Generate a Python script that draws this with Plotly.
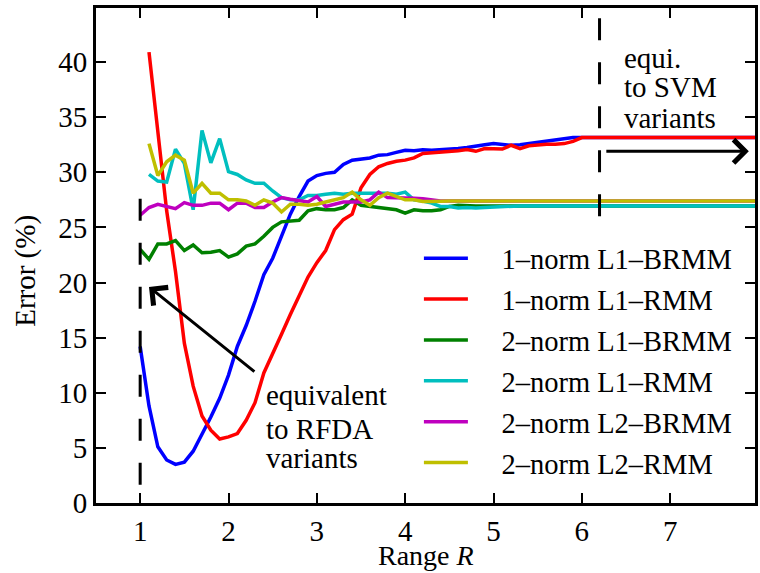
import plotly.graph_objects as go

# x grid (Range R)
x_brmm = [1.0, 1.1, 1.2, 1.3, 1.4, 1.5, 1.6, 1.7, 1.8, 1.9,
          2.0, 2.1, 2.2, 2.3, 2.4, 2.5, 2.6, 2.7, 2.8, 2.9,
          3.0, 3.1, 3.2, 3.3, 3.4, 3.5, 3.6, 3.7, 3.8, 3.9,
          4.0, 4.1, 4.2, 4.3, 4.4, 4.5, 4.6, 4.7, 4.8, 4.9,
          5.0, 5.1, 5.2, 5.3, 5.4, 5.5, 5.6, 5.7, 5.8, 5.9,
          6.0, 6.1, 6.2, 8.0]
x_rmm = x_brmm[1:]

l1_brmm_1norm = [14.2, 8.8, 5.1, 3.9, 3.5, 3.7, 4.7, 6.2, 7.8, 9.5,
                 11.6, 14.2, 16.1, 18.3, 20.7, 22.2, 24.3, 26.2, 27.8, 29.2,
                 29.7, 29.9, 30.0, 30.7, 31.1, 31.2, 31.3, 31.55, 31.6, 31.8,
                 32.0, 31.95, 32.05, 32.0, 32.05, 32.05, 32.15, 32.25, 32.4, 32.5,
                 32.6, 32.5, 32.45, 32.5, 32.6, 32.7, 32.85, 32.95, 33.05, 33.15,
                 33.15, 33.15, 33.15, 33.15]

l1_rmm_1norm = [40.9, 33.5, 26.5, 21.0, 14.5, 10.6, 7.9, 6.6, 5.8,
                6.0, 6.3, 7.5, 9.1, 11.8, 13.5, 15.3, 17.1, 18.8, 20.5,
                21.8, 22.9, 24.8, 25.7, 26.2, 28.6, 29.8, 30.5, 30.8, 31.0,
                31.1, 31.3, 31.7, 31.75, 31.8, 31.85, 31.95, 32.06, 31.9, 32.15,
                32.1, 32.1, 32.45, 32.15, 32.4, 32.5, 32.55, 32.55, 32.6, 32.8,
                33.15, 33.15, 33.15, 33.15]

l1_brmm_2norm = [23.0, 22.1, 23.5, 23.5, 23.8, 22.9, 23.4, 22.7, 22.75, 22.9,
                 22.3, 22.6, 23.3, 23.5, 24.2, 25.0, 25.5, 25.6, 25.65, 26.5,
                 26.7, 26.6, 26.6, 26.8, 27.5, 27.0, 26.9, 26.8, 26.7, 26.6,
                 26.3, 26.6, 26.5, 26.5, 26.6, 26.9, 27.0, 26.95, 26.95, 26.95,
                 26.95, 26.95, 26.95, 26.95, 26.95, 26.95, 26.95, 26.95, 26.95, 26.95,
                 26.95, 26.95, 26.95, 26.95]

l1_rmm_2norm = [29.8, 29.2, 29.1, 32.1, 30.8, 26.6, 33.8, 30.85, 33.05,
                30.05, 29.8, 29.3, 29.0, 29.0, 28.3, 27.7, 27.5, 27.5, 27.9,
                27.9, 28.0, 28.1, 28.0, 28.1, 28.1, 28.1, 28.1, 28.1, 28.0,
                28.2, 27.5, 27.4, 27.2, 26.9, 26.9, 26.75, 26.8, 26.75, 26.8,
                26.85, 26.9, 26.95, 26.95, 26.95, 26.95, 26.95, 26.95, 26.95, 26.95,
                26.95, 26.95, 26.95, 26.95]

l2_brmm_2norm = [26.1, 26.8, 27.1, 26.9, 26.7, 27.25, 27.0, 27.0, 27.2, 27.2,
                 26.6, 27.2, 27.2, 26.8, 26.8, 27.3, 27.7, 27.55, 27.4, 27.3,
                 27.8, 26.9, 27.1, 27.3, 27.3, 27.3, 27.5, 28.2, 27.7, 27.7,
                 27.7, 27.65, 27.6, 27.5, 27.4, 27.4, 27.4, 27.4, 27.4, 27.4,
                 27.4, 27.4, 27.4, 27.4, 27.4, 27.4, 27.4, 27.4, 27.4, 27.4,
                 27.4, 27.4, 27.4, 27.4]

l2_rmm_2norm = [32.6, 29.7, 30.95, 31.55, 31.1, 28.1, 29.0, 28.1, 28.1,
                27.5, 27.5, 27.4, 27.0, 27.5, 27.2, 26.4, 27.1, 27.1, 27.0,
                27.1, 27.3, 27.5, 27.7, 28.2, 27.5, 27.0, 27.7, 28.1, 27.8,
                27.5, 27.5, 27.35, 27.35, 27.4, 27.4, 27.4, 27.4, 27.4, 27.4,
                27.4, 27.4, 27.4, 27.4, 27.4, 27.4, 27.4, 27.4, 27.4, 27.4,
                27.4, 27.4, 27.4, 27.4]

series_names = ["1\u2013norm L1\u2013BRMM", "1\u2013norm L1\u2013RMM",
                "2\u2013norm L1\u2013BRMM", "2\u2013norm L1\u2013RMM",
                "2\u2013norm L2\u2013BRMM", "2\u2013norm L2\u2013RMM"]
series_x = [x_brmm, x_rmm, x_brmm, x_rmm, x_brmm, x_rmm]
series_y = [l1_brmm_1norm, l1_rmm_1norm, l1_brmm_2norm,
            l1_rmm_2norm, l2_brmm_2norm, l2_rmm_2norm]
colors = ["#0000FF", "#FF0000", "#008000", "#00BFBF", "#BF00BF", "#BFBF00"]

x_ticks = [1, 2, 3, 4, 5, 6, 7]
y_ticks = [0, 5, 10, 15, 20, 25, 30, 35, 40]

FONT = "'Times New Roman', 'Liberation Serif', Times, serif"

fig = go.Figure()
for i, (nm, xs, ys, c) in enumerate(zip(series_names, series_x, series_y, colors)):
    fig.add_trace(go.Scatter(x=xs, y=ys, mode="lines",
                             name="\u00a0\u00a0\u00a0\u00a0" + nm,
                             legendgroup=str(i),
                             line=dict(color=c, width=3.5)))

# dashed markers
fig.add_shape(type="line", x0=1, x1=1, y0=27.6, y1=0, xref="x", yref="y",
              line=dict(color="black", width=3, dash="22px,22px"))
fig.add_shape(type="line", x0=6.2, x1=6.2, y0=26.0, y1=44.9, xref="x", yref="y",
              line=dict(color="black", width=3, dash="22px,22px"))

ann = []
# arrows
ann.append(dict(x=1.10, y=19.6, ax=2.31, ay=11.8, xref="x", yref="y",
                axref="x", ayref="y", text="", showarrow=True,
                arrowhead=4, arrowsize=1.5, arrowwidth=3, arrowcolor="black"))
ann.append(dict(x=7.89, y=31.9, ax=6.26, ay=31.9, xref="x", yref="y",
                axref="x", ayref="y", text="", showarrow=True,
                arrowhead=4, arrowsize=1.5, arrowwidth=3, arrowcolor="black"))

def txt(s, x, y):
    return dict(text=s, x=x, y=y, xref="paper", yref="paper", xanchor="left",
                yanchor="middle", showarrow=False,
                font=dict(family=FONT, size=29, color="black"))

ann += [txt("equivalent", 0.2553, 0.2172), txt("to RFDA", 0.2553, 0.1505),
        txt("variants", 0.2553, 0.0899),
        txt("equi.", 0.7976, 0.898), txt("to SVM", 0.7976, 0.840),
        txt("variants", 0.7976, 0.778)]

# axis titles
ann.append(dict(text="Range <i>R</i>", x=0.5, y=-0.106, xref="paper", yref="paper",
                xanchor="center", yanchor="middle", showarrow=False,
                font=dict(family=FONT, size=28, color="black")))
ann.append(dict(text="Error (%)", x=-0.107, y=0.47, xref="paper", yref="paper",
                xanchor="center", yanchor="middle", showarrow=False, textangle=-90,
                font=dict(family=FONT, size=29, color="black")))

fig.update_layout(
    width=760, height=573,
    margin=dict(l=96, r=2, t=8, b=70),
    paper_bgcolor="white", plot_bgcolor="white",
    font=dict(family=FONT, size=29, color="black"),
    annotations=ann,
    legend=dict(x=0.49, y=0.545, xanchor="left", yanchor="top",
                bgcolor="rgba(0,0,0,0)", tracegroupgap=0.8,
                font=dict(family=FONT, size=28.5, color="black"),
                itemwidth=44),
    showlegend=True,
)
fig.update_xaxes(range=[0.5, 7.96], tickvals=x_ticks, ticks="inside", ticklen=10,
                 tickwidth=2, tickcolor="black", showline=True, linewidth=3,
                 linecolor="black", mirror="allticks", showgrid=False, zeroline=False,
                 tickfont=dict(family=FONT, size=29))
fig.update_yaxes(range=[0, 44.9], tickvals=y_ticks, ticks="inside", ticklen=10,
                 tickwidth=2, tickcolor="black", showline=True, linewidth=3,
                 linecolor="black", mirror="allticks", showgrid=False, zeroline=False,
                 tickfont=dict(family=FONT, size=29))

fig.write_html("out.html")
